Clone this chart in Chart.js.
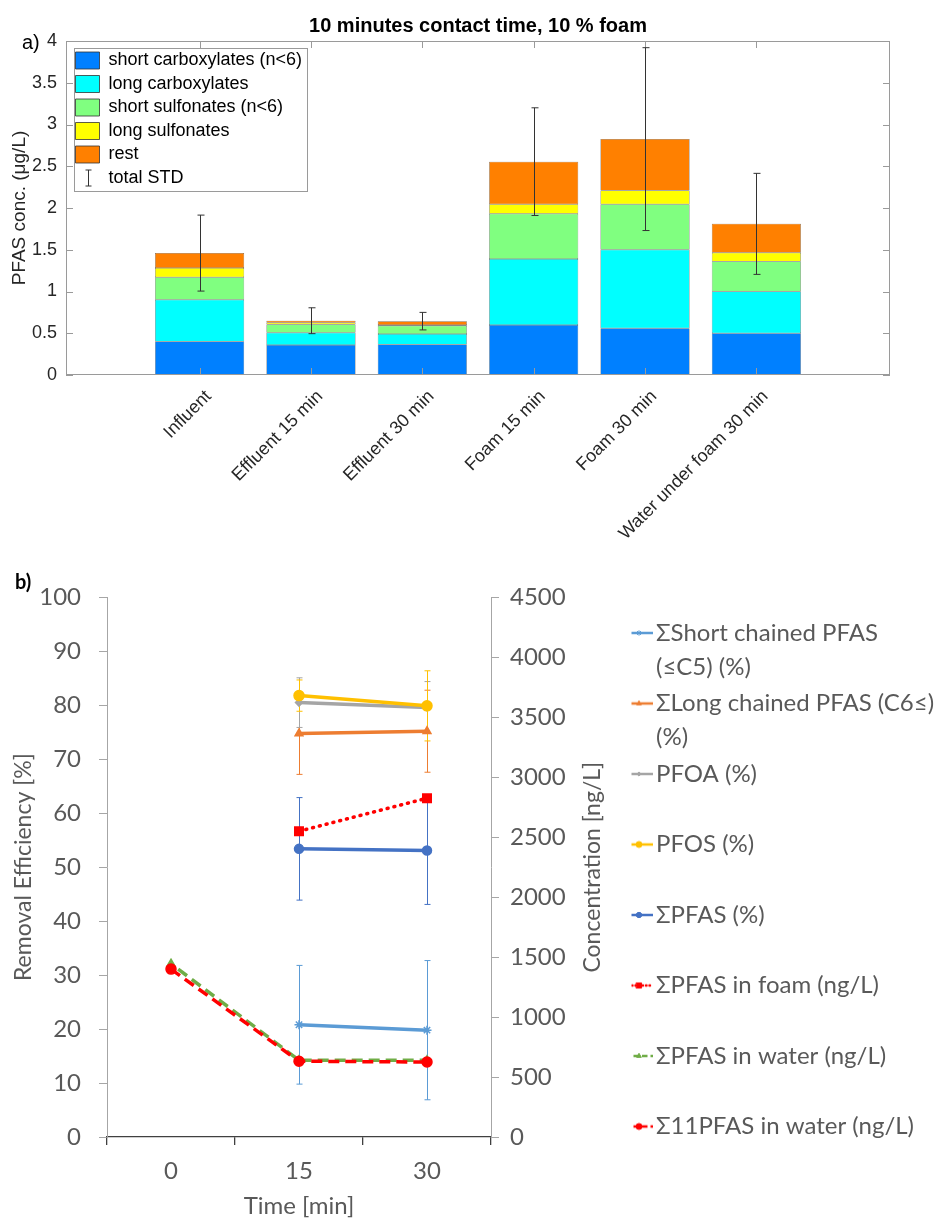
<!DOCTYPE html>
<html>
<head>
<meta charset="utf-8">
<script src="https://cdn.jsdelivr.net/npm/chart.js@4.4.1/dist/chart.umd.min.js"></script>
<style>
  body { margin: 0; background: #fff; width: 935px; height: 1218px; position: relative; overflow: hidden; }
  #topWrap { position: absolute; left: 0; top: 0; }
  #botWrap { position: absolute; left: 0; top: 565px; }
  .tag { position: absolute; line-height: 20px; }
</style>
</head>
<body>
<div id="topWrap"><canvas id="barChart" width="935" height="565"></canvas></div>
<div id="botWrap"><canvas id="lineChart" width="935" height="653"></canvas></div>
<div class="tag" style="left:22px;top:32px;font-family:'Liberation Sans',Arial,sans-serif;font-size:20px;color:#000">a)</div>
<div class="tag" style="left:15px;top:571px;font-family:Lato,'Open Sans',sans-serif;font-size:20px;font-weight:bold;color:#000">b)</div>
<script>
// panel a) stacked bars, µg/L
const barCategories = ['Influent', 'Effluent 15 min', 'Effluent 30 min', 'Foam 15 min', 'Foam 30 min', 'Water under foam 30 min'];
const shortCarboxylates = [0.40, 0.36, 0.365, 0.60, 0.56, 0.50];
const longCarboxylates  = [0.50, 0.145, 0.125, 0.79, 0.94, 0.50];
const shortSulfonates   = [0.27, 0.10, 0.10, 0.54, 0.545, 0.36];
const longSulfonates    = [0.11, 0.02, 0.01, 0.115, 0.165, 0.105];
const restPfas          = [0.18, 0.025, 0.045, 0.51, 0.615, 0.345];
const totalStd          = [0.455, 0.155, 0.105, 0.645, 1.095, 0.605];

// panel b) removal efficiency (%) and concentrations (ng/L)
const timeLabels = ['0', '15', '30'];
const shortChained    = [null, 20.8, 19.8];
const shortChainedErr = [null, 11.0, 12.9];
const longChained     = [null, 74.8, 75.2];
const longChainedErr  = [null, 7.6, 7.6];
const pfoa            = [null, 80.5, 79.6];
const pfoaErr         = [null, 4.6, 4.8];
const pfos            = [null, 81.8, 79.9];
const pfosErr         = [null, 2.9, 6.5];
const sumPfas         = [null, 53.4, 53.1];
const sumPfasErr      = [null, 9.5, 10.0];
const foamConc        = [null, 2550, 2825];
const waterConc       = [1445, 640, 640];
const water11Conc     = [1400, 632, 625];

const FONT_A = "'Liberation Sans', Arial, Helvetica, sans-serif";
const FONT_B = "Lato, 'Open Sans', 'Noto Sans', sans-serif";
const GREY_TXT = '#595959';

const barNames  = ['short carboxylates (n<6)', 'long carboxylates', 'short sulfonates (n<6)', 'long sulfonates', 'rest'];
const barValues = [shortCarboxylates, longCarboxylates, shortSulfonates, longSulfonates, restPfas];
const barColors = ['#0080ff', '#00ffff', '#80ff80', '#ffff00', '#ff8000'];

// box, inward ticks, error bars and legend frame, the way matlab draws them
const matlabFrame = {
    id: 'matlabFrame',
    afterLayout(chart) {
        const lg = chart.legend, a = chart.chartArea;
        const h = lg.height;
        lg.left = a.left + 4;
        lg.right = lg.left + lg.width;
        lg.top = a.top;
        lg.bottom = a.top + h;
    },
    afterDatasetsDraw(chart) {
        const { ctx, chartArea: a, scales: { x, y } } = chart;
        ctx.save();
        ctx.strokeStyle = '#9a9a9a';
        ctx.lineWidth = 1;
        ctx.strokeRect(Math.round(a.left) + 0.5, Math.round(a.top) + 0.5, Math.round(a.width) - 1, Math.round(a.height) - 1);
        ctx.beginPath();
        y.ticks.forEach(t => {
            const py = Math.round(y.getPixelForValue(t.value)) + 0.5;
            ctx.moveTo(a.left, py); ctx.lineTo(a.left + 7, py);
            ctx.moveTo(a.right, py); ctx.lineTo(a.right - 7, py);
        });
        x.ticks.forEach(t => {
            const px = Math.round(x.getPixelForValue(t.value)) + 0.5;
            ctx.moveTo(px, a.bottom); ctx.lineTo(px, a.bottom - 7);
            ctx.moveTo(px, a.top); ctx.lineTo(px, a.top + 7);
        });
        ctx.stroke();

        ctx.strokeStyle = '#333';
        ctx.beginPath();
        barCategories.forEach((c, i) => {
            const total = barValues.reduce((s, d) => s + d[i], 0);
            const px = Math.round(x.getPixelForValue(i + 1)) + 0.5;
            const yt = y.getPixelForValue(total + totalStd[i]);
            const yb = y.getPixelForValue(total - totalStd[i]);
            ctx.moveTo(px, yt); ctx.lineTo(px, yb);
            ctx.moveTo(px - 3, yt); ctx.lineTo(px + 4, yt);
            ctx.moveTo(px - 3, yb); ctx.lineTo(px + 4, yb);
        });
        ctx.stroke();
        ctx.restore();
    },
    afterDraw(chart) {
        const { ctx } = chart;
        const lg = chart.legend;
        ctx.save();
        ctx.font = `18px ${FONT_A}`;
        const tw = Math.max(...barNames.concat(['total STD']).map(t => ctx.measureText(t).width));
        const bx = Math.round(lg.left + 3.5) + 0.5;
        const by = Math.round(lg.top + 7) + 0.5;
        ctx.strokeStyle = '#9a9a9a';
        ctx.lineWidth = 1;
        ctx.strokeRect(bx, by, Math.round(2 + 24 + 9 + tw + 4), 143);
        // "total STD" glyph
        const cx = Math.round(lg.left + 5.5 + 12) + 0.5;
        const cy = lg.top + 5 + 5.5 + 5 * 23.5 + 9;
        ctx.strokeStyle = '#333';
        ctx.beginPath();
        ctx.moveTo(cx, cy - 8); ctx.lineTo(cx, cy + 8);
        ctx.moveTo(cx - 3, cy - 8); ctx.lineTo(cx + 3, cy - 8);
        ctx.moveTo(cx - 3, cy + 8); ctx.lineTo(cx + 3, cy + 8);
        ctx.stroke();
        ctx.restore();
    },
};

const topChart = new Chart(document.getElementById('barChart'), {
    type: 'bar',
    data: {
        datasets: barNames.map((name, i) => ({
            label: name,
            data: barValues[i].map((v, j) => ({ x: j + 1, y: v })),
            backgroundColor: barColors[i],
            borderColor: '#3a3a3a',
            borderWidth: 0.5,
            borderSkipped: false,
            barPercentage: 0.8,
            categoryPercentage: 1.0,
        })),
    },
    options: {
        responsive: false,
        animation: false,
        layout: { padding: { left: 0, right: 45, top: 0, bottom: 0 } },
        scales: {
            x: {
                type: 'linear', min: -0.2, max: 7.2, stacked: true, offset: false,
                grid: { display: false, drawTicks: false },
                border: { display: false },
                afterBuildTicks: s => { s.ticks = barCategories.map((c, i) => ({ value: i + 1 })); },
                afterFit: s => { s.height = 190; },
                ticks: {
                    autoSkip: false, minRotation: 45, maxRotation: 45, padding: 11, labelOffset: 9,
                    color: '#262626', font: { family: FONT_A, size: 18 },
                    callback: v => barCategories[v - 1],
                },
            },
            y: {
                min: 0, max: 4, stacked: true,
                grid: { display: false, drawTicks: false },
                border: { display: false },
                afterFit: s => { s.width = 66; },
                ticks: { stepSize: 0.5, padding: 9, color: '#262626', font: { family: FONT_A, size: 18 }, callback: v => String(v) },
                title: { display: true, text: 'PFAS conc. (μg/L)', color: '#262626', font: { family: FONT_A, size: 19 }, padding: { top: 8, bottom: 0 } },
            },
        },
        plugins: {
            title: {
                display: true, fullSize: false,
                text: '10 minutes contact time, 10 % foam',
                color: '#000', font: { family: FONT_A, size: 20, weight: 'bold' },
                padding: { top: 14, bottom: 3 },
            },
            legend: {
                position: 'chartArea', align: 'start',
                title: { display: true, text: ' ', font: { size: 1 }, padding: { top: 3.8, bottom: 0 } },
                labels: {
                    boxWidth: 24, boxHeight: 17, padding: 5.5,
                    color: '#000', font: { family: FONT_A, size: 18 },
                    generateLabels: chart => {
                        const items = chart.data.datasets.map((ds, i) => ({
                            text: ds.label, fillStyle: ds.backgroundColor, strokeStyle: '#333',
                            lineWidth: 0.8, fontColor: '#000', hidden: false, datasetIndex: i,
                        }));
                        items.push({ text: 'total STD', fillStyle: 'rgba(0,0,0,0)', strokeStyle: 'rgba(0,0,0,0)', lineWidth: 0, fontColor: '#000', hidden: false });
                        return items;
                    },
                },
            },
            tooltip: { enabled: false },
        },
    },
    plugins: [matlabFrame],
});

// panel b)
const lineSeries = [
    { name: ['ΣShort chained PFAS', '(≤C5) (%)'], data: shortChained, err: shortChainedErr, axis: 'y', color: '#5b9bd5', marker: 'star', radius: 4.5, dash: [] },
    { name: ['ΣLong chained PFAS (C6≤)', '(%)'], data: longChained, err: longChainedErr, axis: 'y', color: '#ed7d31', marker: 'triangle', radius: 4.5, dash: [] },
    { name: ['PFOA (%)', ''], data: pfoa, err: pfoaErr, axis: 'y', color: '#a5a5a5', marker: 'rectRot', radius: 3.5, dash: [] },
    { name: ['PFOS (%)', ''], data: pfos, err: pfosErr, axis: 'y', color: '#ffc000', marker: 'circle', radius: 5, dash: [] },
    { name: ['ΣPFAS (%)', ''], data: sumPfas, err: sumPfasErr, axis: 'y', color: '#4472c4', marker: 'circle', radius: 4.5, dash: [] },
    { name: ['ΣPFAS in foam (ng/L)', ''], data: foamConc, err: null, axis: 'y1', color: '#ff0000', marker: 'rect', radius: 6, dash: [1, 6], cap: 'round' },
    { name: ['ΣPFAS in water (ng/L)', ''], data: waterConc, err: null, axis: 'y1', color: '#70ad47', marker: 'triangle', radius: 4.5, dash: [11, 6], dashOffset: 8 },
    { name: ['Σ11PFAS in water (ng/L)', ''], data: water11Conc, err: null, axis: 'y1', color: '#ff0000', marker: 'circle', radius: 5, dash: [11, 6] },
];

function legendSample(s) {
    const c = document.createElement('canvas');
    c.width = 30; c.height = 14;
    const g = c.getContext('2d');
    g.strokeStyle = s.color;
    g.fillStyle = s.color;
    g.lineWidth = 2.5;
    g.lineCap = s.cap || 'butt';
    g.setLineDash(s.dash.length ? s.dash.map(d => d * 0.5) : []);
    g.beginPath(); g.moveTo(1, 7); g.lineTo(29, 7); g.stroke();
    g.setLineDash([]);
    g.lineWidth = 1;
    Chart.helpers.drawPoint(g, { pointStyle: s.marker, radius: s.radius * 0.6, borderWidth: 1, rotation: 0 }, 15, 7);
    return c;
}

const excelExtras = {
    id: 'excelExtras',
    beforeDatasetsDraw(chart) {
        const { ctx } = chart;
        ctx.save();
        ctx.lineWidth = 1;
        lineSeries.forEach((s, di) => {
            if (!s.err) return;
            const meta = chart.getDatasetMeta(di);
            const sc = chart.scales[s.axis];
            ctx.strokeStyle = s.color;
            ctx.beginPath();
            s.err.forEach((e, i) => {
                if (e == null || s.data[i] == null) return;
                const px = Math.round(meta.data[i].x) + 0.5;
                const yt = sc.getPixelForValue(s.data[i] + e);
                const yb = sc.getPixelForValue(s.data[i] - e);
                ctx.moveTo(px, yt); ctx.lineTo(px, yb);
                ctx.moveTo(px - 3, yt); ctx.lineTo(px + 3, yt);
                ctx.moveTo(px - 3, yb); ctx.lineTo(px + 3, yb);
            });
            ctx.stroke();
        });
        ctx.restore();
    },
    afterDraw(chart) {
        const { ctx, chartArea: a } = chart;
        ctx.save();
        ctx.translate(a.right + 102, (a.top + a.bottom) / 2);
        ctx.rotate(-Math.PI / 2);
        ctx.textAlign = 'center';
        ctx.textBaseline = 'middle';
        ctx.font = `23px ${FONT_B}`;
        ctx.fillStyle = GREY_TXT;
        ctx.fillText('Concentration [ng/L]', 0, 0);
        ctx.restore();
    },
};

const tickFontB = { family: FONT_B, size: 24 };

const bottomChart = new Chart(document.getElementById('lineChart'), {
    type: 'line',
    data: {
        labels: timeLabels,
        datasets: lineSeries.map((s, i) => ({
            label: s.name.join(' '),
            data: s.data,
            yAxisID: s.axis,
            borderColor: s.color,
            backgroundColor: s.color,
            borderWidth: 3.5,
            borderDash: s.dash,
            borderDashOffset: s.dashOffset || 0,
            borderCapStyle: s.cap || 'butt',
            pointStyle: s.marker,
            pointRadius: s.radius,
            pointBorderColor: s.color,
            pointBackgroundColor: s.color,
            pointBorderWidth: 1.5,
            tension: 0,
            order: lineSeries.length - i,
        })),
    },
    options: {
        responsive: false,
        animation: false,
        layout: { padding: { left: 0, right: 0, top: 19, bottom: 0 } },
        scales: {
            x: {
                type: 'category', offset: true,
                grid: { offset: true, drawOnChartArea: false, color: '#404040', tickLength: 8, lineWidth: 1.3 },
                border: { color: '#404040', width: 1.3 },
                ticks: { color: GREY_TXT, font: tickFontB, padding: 12 },
                title: { display: true, text: 'Time [min]', color: GREY_TXT, font: { family: FONT_B, size: 24, lineHeight: 1 }, padding: 0 },
                afterFit: s => { s.height = 81; },
            },
            y: {
                position: 'left', min: 0, max: 100,
                grid: { drawOnChartArea: false, color: '#a6a6a6', tickLength: 8 },
                border: { color: '#a6a6a6' },
                ticks: { stepSize: 10, padding: 18, color: GREY_TXT, font: tickFontB },
                title: { display: true, text: 'Removal Efficiency [%]', color: GREY_TXT, font: { family: FONT_B, size: 23, lineHeight: 1 }, padding: { top: 12.5, bottom: 0 } },
                afterFit: s => { s.width = 107; },
            },
            y1: {
                position: 'right', min: 0, max: 4500,
                grid: { drawOnChartArea: false, color: '#a6a6a6', tickLength: 8 },
                border: { color: '#a6a6a6' },
                ticks: { stepSize: 500, padding: 11, color: GREY_TXT, font: tickFontB, callback: v => String(v) },
                afterFit: s => { s.width = 140.5; },
            },
        },
        plugins: {
            legend: {
                position: 'right', align: 'start', maxWidth: 420,
                title: { display: true, text: ' ', font: { size: 1 }, padding: { top: 33.3, bottom: 0 } },
                labels: {
                    usePointStyle: true, pointStyleWidth: 10, padding: 2.5,
                    color: GREY_TXT, font: { family: FONT_B, size: 24, lineHeight: 34 / 24 },
                    generateLabels: () => lineSeries.map((s, i) => ({
                        text: s.name, fillStyle: s.color, strokeStyle: s.color, lineWidth: 0,
                        pointStyle: legendSample(s), fontColor: GREY_TXT, hidden: false, datasetIndex: i,
                    })),
                },
            },
            tooltip: { enabled: false },
        },
    },
    plugins: [excelExtras],
});

// pull the plot's right edge to where the reference has it
const dx = bottomChart.chartArea.right - 491;
bottomChart.options.layout.padding.right = dx;
bottomChart.update();
</script>
</body>
</html>
